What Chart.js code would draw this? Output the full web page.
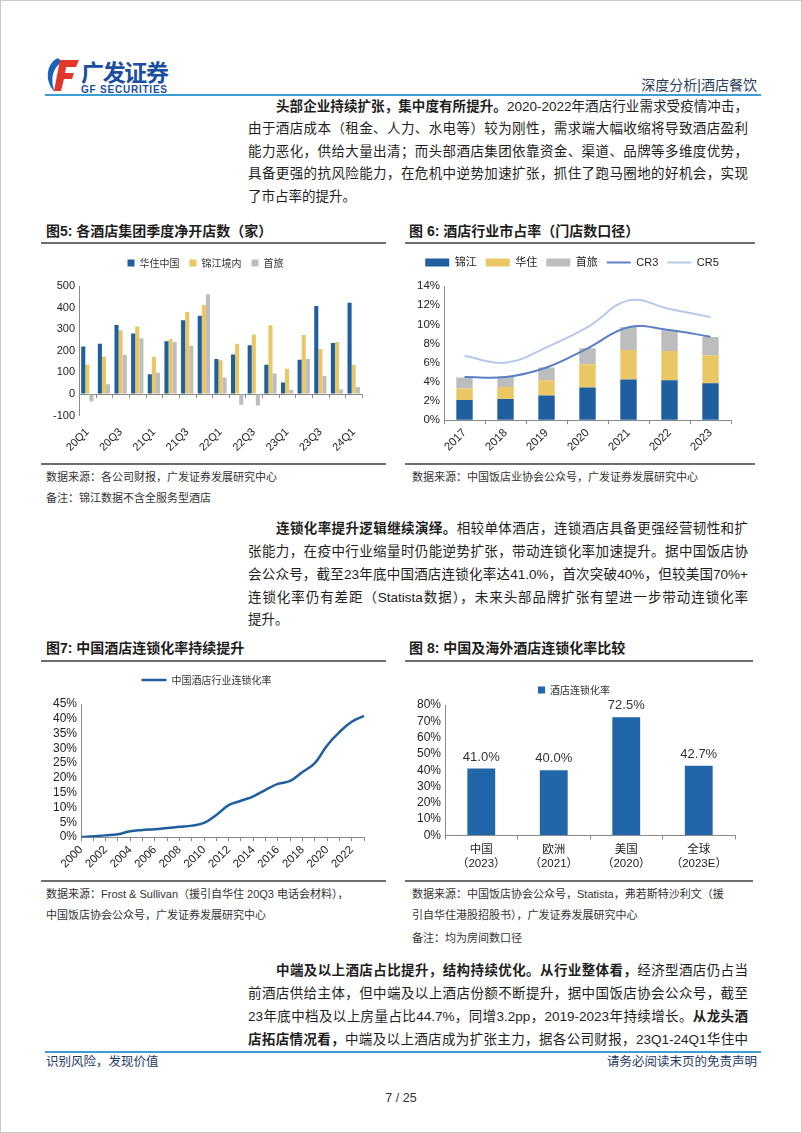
<!DOCTYPE html>
<html>
<head>
<meta charset="utf-8">
<script src="https://cdn.jsdelivr.net/npm/chart.js@4.4.1/dist/chart.umd.min.js"></script>
<style>
  body { margin: 0; background: #fff; }
  #page { position: relative; width: 800px; height: 1131px; overflow: hidden; border: 1px solid #c8c8c8;
          font-family: "Liberation Sans", "Noto Sans CJK SC", sans-serif; color: #1e1e1e; background: #fff; }
  .ln { position: absolute; left: 247px; width: 500px; height: 20px; line-height: 20px; font-size: 13.5px;
        white-space: nowrap; text-align: justify; text-align-last: justify; }
  .ind { left: 275px; width: 472px; }
  .last { text-align-last: left; }
  b { font-weight: 700; }
  .ftitle { position: absolute; top: 220px; height: 20px; line-height: 20px; font-size: 14px; font-weight: 700; }
  .rule { position: absolute; height: 2px; background: #6e6e6e; }
  .src { position: absolute; height: 16px; line-height: 16px; font-size: 11px; color: #333; }
  .blue { position: absolute; left: 44px; width: 716px; height: 2px; background: #3f9dd6; }
  canvas { position: absolute; }
  .foot { position: absolute; font-size: 12.5px; color: #1f3a66; height: 18px; line-height: 18px; }
</style>
</head>
<body>
<div id="page">
  <!-- header -->
  <svg style="position:absolute;left:44px;top:54px" width="130" height="40">
    <path d="M13 3 C1 8 -1 27 10 37 C5 26 7 13 17 7 Z" fill="#1a63b8"/>
    <path d="M15 5 H34 L31 12 H21 L20 18 H29 L27 24 H19 L16 36 H9 Z" fill="#e3372c"/>
    <text x="36" y="26" font-size="23" font-weight="700" fill="#1b4fa0" font-family="Noto Sans CJK SC" textLength="88">广发证券</text>
    <text x="36" y="38" font-size="10" font-weight="700" fill="#1b4fa0" textLength="86" font-family="Liberation Sans">GF SECURITIES</text>
  </svg>
  <div style="position:absolute;right:44px;top:74px;font-size:14px;color:#2a3e5e;line-height:20px;">深度分析|酒店餐饮</div>
  <div class="blue" style="top:93px"></div>

  <!-- paragraph 1 -->
  <div class="ln ind" style="top:96px"><b>头部企业持续扩张，集中度有所提升。</b>2020-2022年酒店行业需求受疫情冲击，</div>
  <div class="ln" style="top:118px">由于酒店成本（租金、人力、水电等）较为刚性，需求端大幅收缩将导致酒店盈利</div>
  <div class="ln" style="top:141px">能力恶化，供给大量出清；而头部酒店集团依靠资金、渠道、品牌等多维度优势，</div>
  <div class="ln" style="top:163px">具备更强的抗风险能力，在危机中逆势加速扩张，抓住了跑马圈地的好机会，实现</div>
  <div class="ln last" style="top:186px">了市占率的提升。</div>

  <!-- figure 5 / 6 -->
  <div class="ftitle" style="left:45px">图5: 各酒店集团季度净开店数（家）</div>
  <div class="ftitle" style="left:408px">图 6: 酒店行业市占率（门店数口径）</div>
  <div class="rule" style="left:40px;width:345px;top:241px"></div>
  <div class="rule" style="left:404px;width:350px;top:241px"></div>
  <canvas id="fig5" width="345" height="216" style="left:40px;top:245px"></canvas>
  <canvas id="fig6" width="350" height="216" style="left:404px;top:245px"></canvas>
  <div class="rule" style="left:40px;width:345px;top:462px"></div>
  <div class="rule" style="left:404px;width:350px;top:462px"></div>
  <div class="src" style="left:45px;top:468px">数据来源：各公司财报，广发证券发展研究中心</div>
  <div class="src" style="left:45px;top:489px">备注：锦江数据不含全服务型酒店</div>
  <div class="src" style="left:411px;top:468px">数据来源：中国饭店业协会公众号，广发证券发展研究中心</div>

  <!-- paragraph 2 -->
  <div class="ln ind" style="top:518px"><b>连锁化率提升逻辑继续演绎。</b>相较单体酒店，连锁酒店具备更强经营韧性和扩</div>
  <div class="ln" style="top:541px">张能力，在疫中行业缩量时仍能逆势扩张，带动连锁化率加速提升。据中国饭店协</div>
  <div class="ln" style="top:564px">会公众号，截至23年底中国酒店连锁化率达41.0%，首次突破40%，但较美国70%+</div>
  <div class="ln" style="top:587px">连锁化率仍有差距（Statista数据），未来头部品牌扩张有望进一步带动连锁化率</div>
  <div class="ln last" style="top:609px">提升。</div>

  <!-- figure 7 / 8 -->
  <div class="ftitle" style="left:45px;top:637px">图7: 中国酒店连锁化率持续提升</div>
  <div class="ftitle" style="left:408px;top:637px">图 8: 中国及海外酒店连锁化率比较</div>
  <div class="rule" style="left:40px;width:345px;top:659px"></div>
  <div class="rule" style="left:404px;width:348px;top:659px"></div>
  <canvas id="fig7" width="345" height="216" style="left:40px;top:662px"></canvas>
  <canvas id="fig8" width="348" height="216" style="left:404px;top:662px"></canvas>
  <div class="rule" style="left:40px;width:345px;top:879px"></div>
  <div class="rule" style="left:404px;width:348px;top:879px"></div>
  <div class="src" style="left:45px;top:885px">数据来源：Frost &amp; Sullivan（援引自华住 20Q3 电话会材料），</div>
  <div class="src" style="left:45px;top:906px">中国饭店协会公众号，广发证券发展研究中心</div>
  <div class="src" style="left:411px;top:885px">数据来源：中国饭店协会公众号，Statista，弗若斯特沙利文（援</div>
  <div class="src" style="left:411px;top:906px">引自华住港股招股书），广发证券发展研究中心</div>
  <div class="src" style="left:411px;top:929px">备注：均为房间数口径</div>

  <!-- paragraph 3 -->
  <div class="ln ind" style="top:960px"><b>中端及以上酒店占比提升，结构持续优化。从行业整体看，</b>经济型酒店仍占当</div>
  <div class="ln" style="top:983px">前酒店供给主体，但中端及以上酒店份额不断提升，据中国饭店协会公众号，截至</div>
  <div class="ln" style="top:1006px">23年底中档及以上房量占比44.7%，同增3.2pp，2019-2023年持续增长。<b>从龙头酒</b></div>
  <div class="ln" style="top:1029px"><b>店拓店情况看，</b>中端及以上酒店成为扩张主力，据各公司财报，23Q1-24Q1华住中</div>
  <div class="blue" style="top:1050px"></div>

  <!-- footer -->
  <div class="foot" style="left:45px;top:1052px">识别风险，发现价值</div>
  <div class="foot" style="right:44px;top:1052px">请务必阅读末页的免责声明</div>
  <div class="foot" style="left:0;width:800px;text-align:center;top:1088px;color:#333">7 / 25</div>
</div>

<script>
// 图5 各酒店集团季度净开店数（家）
var quarters = ["20Q1","20Q2","20Q3","20Q4","21Q1","21Q2","21Q3","21Q4","22Q1","22Q2","22Q3","22Q4","23Q1","23Q2","23Q3","23Q4","24Q1"];
var huazhuNet = [220, 233, 320, 280, 92, 244, 342, 362, 162, 183, 226, 136, 53, 159, 408, 236, 423];
var jinjiangNet = [136, 174, 295, 312, 173, 253, 380, 412, 156, 233, 276, 318, 117, 273, 208, 241, 136];
var shoulvNet = [-35, 45, 182, 258, 98, 241, 224, 462, 77, -50, -53, 95, 20, 162, 83, 21, 33];

// 图6 酒店行业市占率（%）
var shareYears = ["2017","2018","2019","2020","2021","2022","2023"];
var jinjiangShare = [2.1, 2.2, 2.57, 3.4, 4.24, 4.17, 3.85];
var huazhuShare = [1.2, 1.27, 1.6, 2.43, 3.09, 3.05, 2.92];
var shoulvShare = [1.15, 1.08, 1.32, 1.67, 2.39, 2.15, 1.91];
var cr3 = [4.5, 4.5, 5.5, 7.5, 9.7, 9.4, 8.7];
var cr5 = [6.7, 6.0, 7.6, 9.7, 12.5, 11.6, 10.75];

// 图7 中国酒店行业连锁化率（%）
var chainYears = ["2000","2001","2002","2003","2004","2005","2006","2007","2008","2009","2010","2011",
                  "2012","2013","2014","2015","2016","2017","2018","2019","2020","2021","2022","2023"];
var chainRate = [0, 0.3, 0.6, 1.0, 2.0, 2.4, 2.7, 3.1, 3.5, 3.9, 4.8, 7.5,
                 10.8, 12.3, 13.8, 16.0, 18.0, 19.0, 22.0, 25.0, 31.0, 35.5, 39.0, 41.0];

// 图8 中国及海外酒店连锁化率比较（%）
var regions = [["中国","（2023）"], ["欧洲","（2021）"], ["美国","（2020）"], ["全球","（2023E）"]];
var regionRate = [41.0, 40.0, 72.5, 42.7];

var BLUE = "#1f5f9f", YELLOW = "#e9c765", GRAY = "#bdbdbd", AXIS = "#8a8a8a";
Chart.defaults.font.family = '"Liberation Sans", "Noto Sans CJK SC", sans-serif';
Chart.defaults.color = "#222";
Chart.defaults.animation = false;

var cjkFont = { family: '"Noto Sans CJK SC", sans-serif', size: 10 };

// 图例与绘图区之间留白
function legendGap(px) {
  return {
    id: "legendGap",
    beforeInit: function (chart) {
      var fit = chart.legend.fit;
      chart.legend.fit = function () {
        fit.call(this);
        this.height += px;
      };
    }
  };
}

// 折线用线段图例，柱子用矩形
function mixedLegend(chart) {
  var items = Chart.defaults.plugins.legend.labels.generateLabels(chart);
  items.forEach(function (it) {
    var ds = chart.data.datasets[it.datasetIndex];
    if (ds.type === "line" || chart.config.type === "line") {
      it.pointStyle = "line";
      it.strokeStyle = ds.borderColor;
      it.lineWidth = ds.borderWidth;
    } else {
      it.pointStyle = "rect";
      it.lineWidth = 0;
    }
  });
  return items;
}

// 图5：0 轴线及分组刻度
var zeroAxis = {
  id: "zeroAxis",
  beforeDatasetsDraw: function (chart) {
    var ctx = chart.ctx, area = chart.chartArea, x = chart.scales.x, y = chart.scales.y;
    var y0 = y.getPixelForValue(0);
    var n = chart.data.labels.length;
    var w = (area.right - area.left) / n;
    ctx.save();
    ctx.strokeStyle = AXIS;
    ctx.lineWidth = 1;
    ctx.beginPath();
    ctx.moveTo(area.left, y0 + 0.5);
    ctx.lineTo(area.right, y0 + 0.5);
    for (var i = 0; i <= n; i++) {
      var px = Math.round(x.getPixelForValue(0) - w / 2 + i * w) + 0.5;
      ctx.moveTo(px, y0);
      ctx.lineTo(px, y0 + 4);
    }
    ctx.stroke();
    ctx.restore();
  }
};

new Chart(document.getElementById("fig5"), {
  type: "bar",
  data: {
    labels: quarters,
    datasets: [
      { label: "华住中国", data: huazhuNet, backgroundColor: BLUE },
      { label: "锦江境内", data: jinjiangNet, backgroundColor: YELLOW },
      { label: "首旅", data: shoulvNet, backgroundColor: GRAY }
    ]
  },
  options: {
    responsive: false,
    layout: { padding: { left: 8, right: 24, top: 2, bottom: 6 } },
    datasets: { bar: { categoryPercentage: 0.74, barPercentage: 1 } },
    plugins: {
      legend: { labels: { boxWidth: 7, boxHeight: 7, padding: 10, font: cjkFont, color: "#333" } },
      tooltip: { enabled: false }
    },
    scales: {
      x: {
        grid: { display: false },
        border: { display: false },
        ticks: {
          autoSkip: false, maxRotation: 45, minRotation: 45, padding: 2,
          font: { size: 11 }, color: "#222",
          callback: function (v, i) { return i % 2 === 0 ? this.getLabelForValue(v) : ""; }
        }
      },
      y: {
        min: -100, max: 500,
        ticks: { stepSize: 100, autoSkip: false, font: { size: 11 }, color: "#222", padding: 4 },
        grid: { drawOnChartArea: false, drawTicks: false },
        border: { color: AXIS }
      }
    }
  },
  plugins: [zeroAxis, legendGap(8)]
});

new Chart(document.getElementById("fig6"), {
  type: "bar",
  data: {
    labels: shareYears,
    datasets: [
      { label: "锦江", data: jinjiangShare, backgroundColor: BLUE, stack: "bars", order: 2 },
      { label: "华住", data: huazhuShare, backgroundColor: YELLOW, stack: "bars", order: 2 },
      { label: "首旅", data: shoulvShare, backgroundColor: GRAY, stack: "bars", order: 2 },
      { type: "line", label: "CR3", data: cr3, borderColor: "#5a7fc4", backgroundColor: "#5a7fc4",
        borderWidth: 2, pointRadius: 0, tension: 0.4, stack: "cr3", order: 1 },
      { type: "line", label: "CR5", data: cr5, borderColor: "#b5c9e8", backgroundColor: "#b5c9e8",
        borderWidth: 2, pointRadius: 0, tension: 0.4, stack: "cr5", order: 1 }
    ]
  },
  options: {
    responsive: false,
    layout: { padding: { left: 8, right: 24, top: 2, bottom: 6 } },
    datasets: { bar: { categoryPercentage: 0.8, barPercentage: 0.5 } },
    plugins: {
      legend: {
        labels: {
          usePointStyle: true, pointStyleWidth: 24, boxWidth: 24, boxHeight: 8, padding: 9,
          font: { family: '"Liberation Sans", "Noto Sans CJK SC", sans-serif', size: 11 }, color: "#222",
          generateLabels: mixedLegend,
          sort: function (a, b) { return a.datasetIndex - b.datasetIndex; }
        }
      },
      tooltip: { enabled: false }
    },
    scales: {
      x: {
        stacked: true,
        grid: { drawOnChartArea: false, tickLength: 4, color: AXIS },
        border: { color: AXIS },
        ticks: { maxRotation: 45, minRotation: 45, padding: 2, font: { size: 11.5 }, color: "#222" }
      },
      y: {
        stacked: true, min: 0, max: 14,
        ticks: { stepSize: 2, autoSkip: false, font: { size: 11.5 }, color: "#222", padding: 4,
                 callback: function (v) { return v + "%"; } },
        grid: { drawOnChartArea: false, drawTicks: false },
        border: { color: AXIS }
      }
    }
  },
  plugins: [legendGap(8)]
});

new Chart(document.getElementById("fig7"), {
  type: "line",
  data: {
    labels: chainYears,
    datasets: [
      { label: "中国酒店行业连锁化率", data: chainRate, borderColor: "#1f5f9f", backgroundColor: "#1f5f9f",
        borderWidth: 2.5, pointRadius: 0, tension: 0.4 }
    ]
  },
  options: {
    responsive: false,
    layout: { padding: { left: 8, right: 22, top: 2, bottom: 6 } },
    plugins: {
      legend: {
        labels: {
          usePointStyle: true, pointStyleWidth: 25, boxWidth: 25, boxHeight: 8, padding: 10,
          font: cjkFont, color: "#333", generateLabels: mixedLegend
        }
      },
      tooltip: { enabled: false }
    },
    scales: {
      x: {
        offset: false,
        grid: { drawOnChartArea: false, tickLength: 4, color: AXIS },
        border: { color: AXIS },
        ticks: {
          autoSkip: false, maxRotation: 45, minRotation: 45, padding: 2,
          font: { size: 11.5 }, color: "#222",
          callback: function (v, i) { return i % 2 === 0 ? this.getLabelForValue(v) : ""; }
        }
      },
      y: {
        min: 0, max: 45,
        ticks: { stepSize: 5, autoSkip: false, font: { size: 12 }, color: "#222", padding: 4,
                 callback: function (v) { return v + "%"; } },
        grid: { drawOnChartArea: false, drawTicks: false },
        border: { color: AXIS }
      }
    }
  },
  plugins: [legendGap(9)]
});

// 图8：柱顶数值
var barValueLabels = {
  id: "barValueLabels",
  afterDatasetsDraw: function (chart) {
    var ctx = chart.ctx;
    var ds = chart.data.datasets[0];
    ctx.save();
    ctx.font = '13px "Liberation Sans"';
    ctx.fillStyle = "#333";
    ctx.textAlign = "center";
    ctx.textBaseline = "bottom";
    chart.getDatasetMeta(0).data.forEach(function (bar, i) {
      ctx.fillText(ds.data[i].toFixed(1) + "%", bar.x, bar.y - 5);
    });
    ctx.restore();
  }
};

new Chart(document.getElementById("fig8"), {
  type: "bar",
  data: {
    labels: regions,
    datasets: [{ label: "酒店连锁化率", data: regionRate, backgroundColor: "#2166a8" }]
  },
  options: {
    responsive: false,
    layout: { padding: { left: 8, right: 18, top: 12, bottom: 4 } },
    datasets: { bar: { categoryPercentage: 0.8, barPercentage: 0.48 } },
    plugins: {
      legend: { labels: { boxWidth: 7, boxHeight: 7, padding: 10, font: cjkFont, color: "#333" } },
      tooltip: { enabled: false }
    },
    scales: {
      x: {
        grid: { drawOnChartArea: false, tickLength: 4, color: AXIS },
        border: { color: AXIS },
        ticks: { font: { family: '"Liberation Sans", "Noto Sans CJK SC", sans-serif', size: 11.5 }, color: "#222", padding: 4 }
      },
      y: {
        min: 0, max: 80,
        ticks: { stepSize: 10, autoSkip: false, font: { size: 12 }, color: "#222", padding: 4,
                 callback: function (v) { return v + "%"; } },
        grid: { drawOnChartArea: false, drawTicks: false },
        border: { color: AXIS }
      }
    }
  },
  plugins: [barValueLabels]
});
</script>
</body>
</html>
